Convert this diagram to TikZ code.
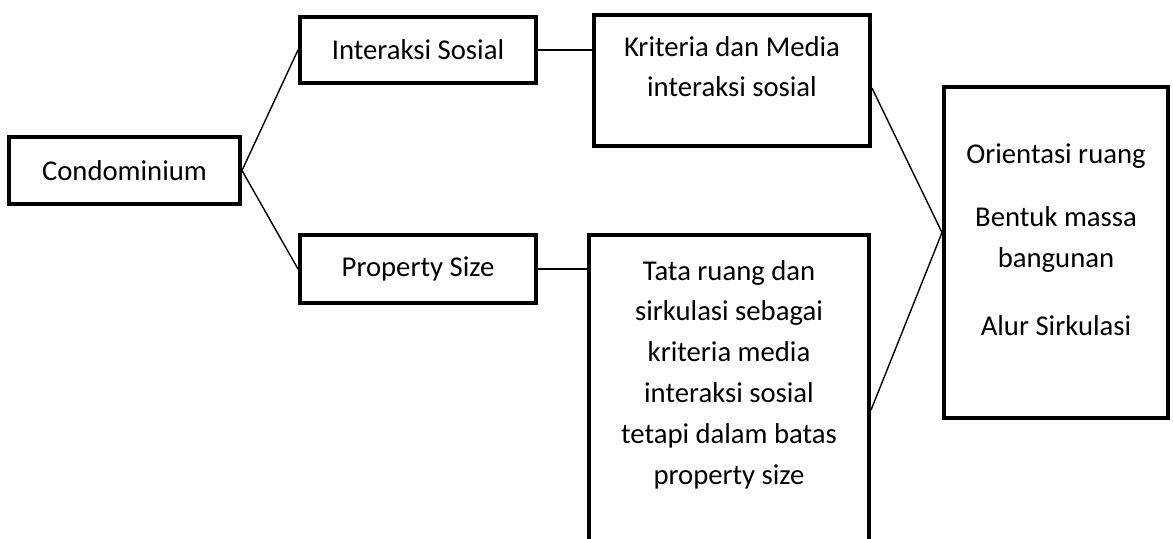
\documentclass[tikz,border=0pt]{standalone}
\usepackage{fontspec}
\setmainfont{Carlito}
\usetikzlibrary{positioning}
\tikzset{
  box/.style={draw, line width=2.8pt, inner sep=0pt, align=center, font=\fontsize{20.4}{29}\selectfont},
  txt/.style={inner sep=0pt, align=center, font=\fontsize{20.4}{29}\selectfont},
  link/.style={line width=1pt},
}
\begin{document}
\begin{tikzpicture}[x=0.025cm, y=-0.025cm]
  \clip (0,0) rectangle (1173,539);

  \node[box, minimum width=5.775cm, minimum height=1.675cm] (cond) at (124.5,170.5) {Condominium};
  \node[box, minimum width=5.9cm, minimum height=1.65cm] (inter) at (418,50) {Interaksi Sosial};
  \node[box, minimum width=5.9cm, minimum height=1.7cm] (prop) at (418,269) {Property Size};

  % tall frames, text sits near the top
  \node[box, minimum width=6.9cm, minimum height=3.275cm] (krit) at (732,80.5) {};
  \node[box, minimum width=7cm, minimum height=8.75cm] (tata) at (729,410) {};
  \node[box, minimum width=5.6cm, minimum height=8.275cm] (orient) at (1056,252.5) {};

  \node[txt, anchor=north] (kritT) at (732,36) {Kriteria dan Media\\interaksi sosial};
  \node[txt, anchor=north] (tataT) at (729,260) {Tata ruang dan\\sirkulasi sebagai\\kriteria media\\interaksi sosial\\tetapi dalam batas\\property size};
  \node[txt, anchor=north] (orientT) at (1056,143) {Orientasi ruang\\[16pt]Bentuk massa\\bangunan\\[20pt]Alur Sirkulasi};

  \coordinate (meet) at ([yshift=5mm]orient.west);

  \draw[link] (cond.east) -- (inter.west);
  \draw[link] (cond.east) -- (prop.west);
  \draw[link] (inter.east) -- (inter.east -| krit.west);
  \draw[link] (prop.east) -- (prop.east -| tata.west);
  \draw[link] ([yshift=-1.9mm]krit.east) -- (meet);
  \draw[link] (tata.east) -- (meet);
\end{tikzpicture}
\end{document}
